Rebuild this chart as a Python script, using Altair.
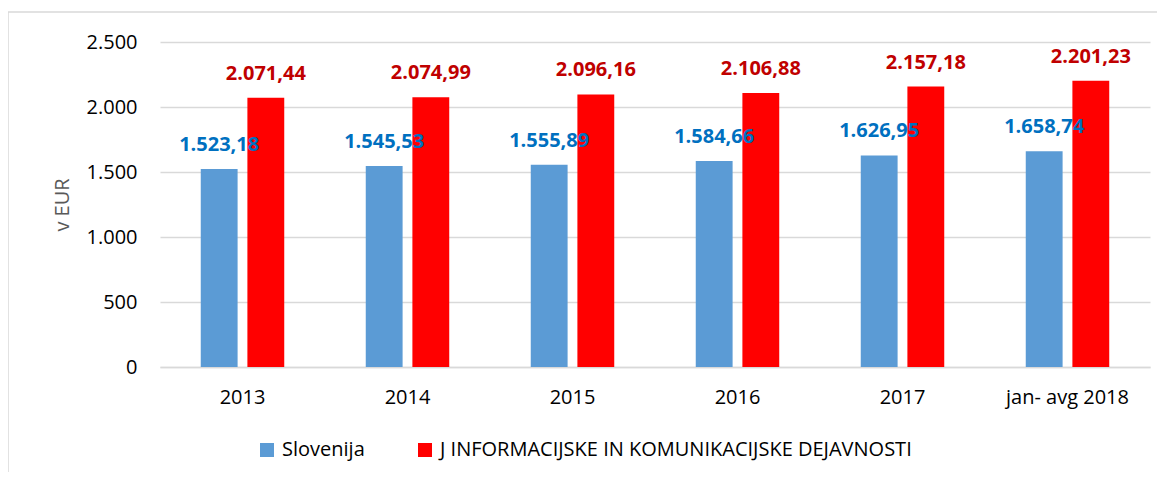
import altair as alt
import pandas as pd

years = ["2013", "2014", "2015", "2016", "2017", "jan- avg 2018"]
series = ["Slovenija", "J INFORMACIJSKE IN KOMUNIKACIJSKE DEJAVNOSTI"]
slovenija = [1523.18, 1545.53, 1555.89, 1584.66, 1626.95, 1658.74]
ict = [2071.44, 2074.99, 2096.16, 2106.88, 2157.18, 2201.23]


def si_fmt(v):
    s = f"{v:,.2f}"
    return s.replace(",", "X").replace(".", ",").replace("X", ".")


rows = []
for y, a, b in zip(years, slovenija, ict):
    rows.append({"year": y, "series": series[0], "value": a, "label": si_fmt(a)})
    rows.append({"year": y, "series": series[1], "value": b, "label": si_fmt(b)})
df = pd.DataFrame(rows)

FONT = "Open Sans"

x_enc = alt.X("year:N", sort=years, title=None,
              scale=alt.Scale(paddingInner=0.494, paddingOuter=0.247),
              axis=alt.Axis(labelAngle=0, labelFontSize=20, labelColor="#000000",
                            labelFont=FONT, labelPadding=20, ticks=False,
                            domainColor="#d9d9d9", domainWidth=1.5, grid=False))
xo_enc = alt.XOffset("series:N", sort=series, scale=alt.Scale(paddingInner=0.21))
y_enc = alt.Y("value:Q", title="v EUR",
              scale=alt.Scale(domain=[0, 2500], nice=False),
              axis=alt.Axis(values=[0, 500, 1000, 1500, 2000, 2500],
                            labelExpr="replace(format(datum.value, ',d'), ',', '.')",
                            labelFontSize=20, labelFont=FONT, labelColor="#000000",
                            labelPadding=23, ticks=False, domain=False,
                            gridColor="#d9d9d9", gridWidth=1.5,
                            titleFontSize=20, titleFont=FONT, titleFontWeight="normal",
                            titleColor="#595959", titlePadding=14))

base = alt.Chart(df)

bars = base.mark_bar().encode(
    x=x_enc, xOffset=xo_enc, y=y_enc,
    color=alt.Color("series:N", sort=series,
                    scale=alt.Scale(domain=series, range=["#5b9bd5", "#ff0000"]),
                    legend=alt.Legend(title=None, orient="none", direction="horizontal",
                                      legendX=97, legendY=398, symbolType="square",
                                      symbolSize=196, symbolStrokeWidth=0,
                                      labelFontSize=20, labelFont=FONT,
                                      labelColor="#000000", labelLimit=700,
                                      columnPadding=50, labelOffset=5, padding=0))
)

text_slo = base.transform_filter(alt.datum.series == series[0]).mark_text(
    font=FONT, fontSize=20, fontWeight="bold", color="#0070c0",
    baseline="alphabetic", align="center", dy=-18
).encode(x=x_enc, xOffset=xo_enc, y=y_enc, text="label:N")

text_ict = base.transform_filter(alt.datum.series == series[1]).mark_text(
    font=FONT, fontSize=20, fontWeight="bold", color="#c00000",
    baseline="alphabetic", align="center", dy=-18
).encode(x=x_enc, xOffset=xo_enc, y=y_enc, text="label:N")

border = alt.Chart(pd.DataFrame({"a": [0]})).mark_rect(
    fillOpacity=0, stroke="#d9d9d9", strokeWidth=1.5
).encode(x=alt.value(-152), x2=alt.value(1200), y=alt.value(-30), y2=alt.value(600))

chart = alt.layer(border, bars, text_slo, text_ict).properties(
    width=990, height=325,
    autosize=alt.AutoSizeParams(type="none"),
    padding={"left": 152, "top": 34, "right": 7, "bottom": 105},
    background="white",
).configure_view(stroke=None)

chart.save("out.html", embed_options={"renderer": "svg", "actions": False})
